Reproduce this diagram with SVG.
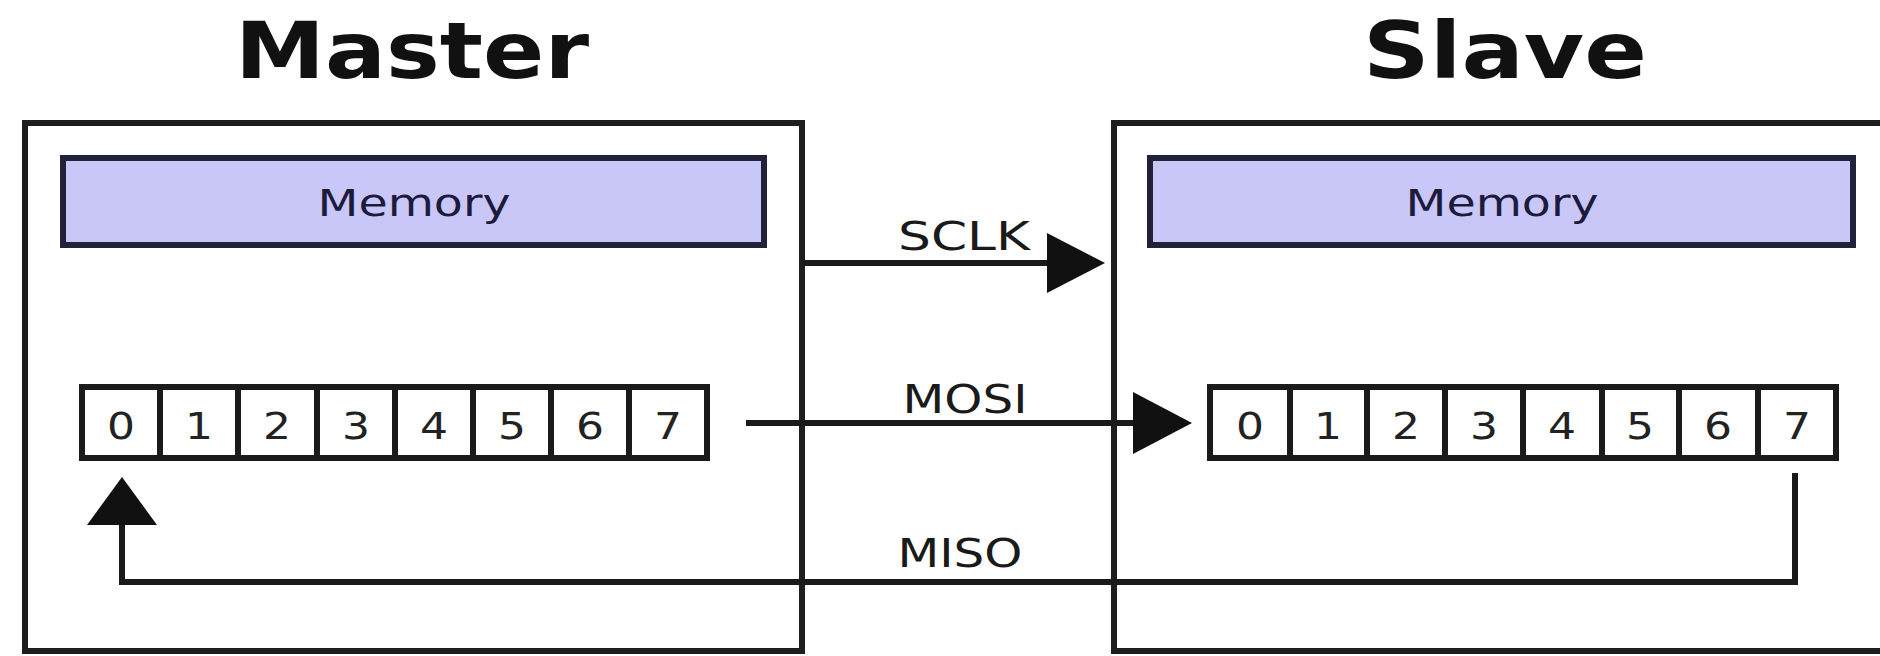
<svg xmlns="http://www.w3.org/2000/svg" width="1880" height="656" viewBox="0 0 1880 656">
  <style>
    .box { fill: #ffffff; stroke: #1e1e1e; stroke-width: 6; }
    .mem { fill: #c9c7f7; stroke: #22213a; stroke-width: 6; }
    .memt { font-family: "DejaVu Sans", "Liberation Sans", sans-serif; font-size: 38px; fill: #1c1b3c; text-anchor: middle; }
    .title { font-family: "DejaVu Sans", "Liberation Sans", sans-serif; font-weight: bold; font-size: 78px; fill: #111111; text-anchor: middle; }
    .reg { fill: #ffffff; stroke: #1a1a1a; stroke-width: 6; }
    .div { stroke: #1a1a1a; stroke-width: 6; }
    .dig { font-family: "DejaVu Sans", "Liberation Sans", sans-serif; font-size: 37px; fill: #222222; text-anchor: middle; }
    .lbl { font-family: "DejaVu Sans", "Liberation Sans", sans-serif; font-size: 39px; fill: #1a1a1a; text-anchor: middle; }
    .wire { fill: none; stroke: #1a1a1a; stroke-width: 6; }
    .head { fill: #111111; stroke: none; }
  </style>
  <rect width="1880" height="656" fill="#ffffff"/>

  <g id="master">
    <text class="title" x="412" y="78" textLength="354" lengthAdjust="spacingAndGlyphs">Master</text>
    <rect class="box" x="25" y="123" width="777" height="528"/>
    <g id="master-memory">
      <rect class="mem" x="63" y="158" width="701" height="87"/>
      <text class="memt" x="414" y="216" textLength="193" lengthAdjust="spacingAndGlyphs">Memory</text>
    </g>
    <g id="master-register">
      <rect class="reg" x="82" y="387" width="625" height="71"/>
      <path class="div" d="M160 387V458M238 387V458M317 387V458M395 387V458M473 387V458M551 387V458M629 387V458"/>
      <text class="dig" x="121" y="439" textLength="28" lengthAdjust="spacingAndGlyphs">0</text>
      <text class="dig" x="199" y="439" textLength="28" lengthAdjust="spacingAndGlyphs">1</text>
      <text class="dig" x="277" y="439" textLength="28" lengthAdjust="spacingAndGlyphs">2</text>
      <text class="dig" x="356" y="439" textLength="28" lengthAdjust="spacingAndGlyphs">3</text>
      <text class="dig" x="434" y="439" textLength="28" lengthAdjust="spacingAndGlyphs">4</text>
      <text class="dig" x="512" y="439" textLength="28" lengthAdjust="spacingAndGlyphs">5</text>
      <text class="dig" x="590" y="439" textLength="28" lengthAdjust="spacingAndGlyphs">6</text>
      <text class="dig" x="668" y="439" textLength="28" lengthAdjust="spacingAndGlyphs">7</text>
    </g>
  </g>

  <g id="slave">
    <text class="title" x="1505" y="78" textLength="284" lengthAdjust="spacingAndGlyphs">Slave</text>
    <rect class="box" x="1114" y="123" width="780" height="528"/>
    <g id="slave-memory">
      <rect class="mem" x="1150" y="158" width="703" height="87"/>
      <text class="memt" x="1502" y="216" textLength="193" lengthAdjust="spacingAndGlyphs">Memory</text>
    </g>
    <g id="slave-register">
      <rect class="reg" x="1210" y="387" width="626" height="71"/>
      <path class="div" d="M1290 387V458M1367 387V458M1445 387V458M1523 387V458M1602 387V458M1679 387V458M1758 387V458"/>
      <text class="dig" x="1250" y="439" textLength="28" lengthAdjust="spacingAndGlyphs">0</text>
      <text class="dig" x="1328" y="439" textLength="28" lengthAdjust="spacingAndGlyphs">1</text>
      <text class="dig" x="1406" y="439" textLength="28" lengthAdjust="spacingAndGlyphs">2</text>
      <text class="dig" x="1484" y="439" textLength="28" lengthAdjust="spacingAndGlyphs">3</text>
      <text class="dig" x="1562" y="439" textLength="28" lengthAdjust="spacingAndGlyphs">4</text>
      <text class="dig" x="1640" y="439" textLength="28" lengthAdjust="spacingAndGlyphs">5</text>
      <text class="dig" x="1718" y="439" textLength="28" lengthAdjust="spacingAndGlyphs">6</text>
      <text class="dig" x="1797" y="439" textLength="28" lengthAdjust="spacingAndGlyphs">7</text>
    </g>
  </g>

  <g id="connectors">
    <g id="sclk">
      <path class="wire" d="M802 263H1050"/>
      <polygon class="head" points="1047,233 1105,263 1047,293"/>
      <text class="lbl" x="964" y="250" textLength="132" lengthAdjust="spacingAndGlyphs">SCLK</text>
    </g>
    <g id="mosi">
      <path class="wire" d="M746 423H1136"/>
      <polygon class="head" points="1133,392 1192,423 1133,454"/>
      <text class="lbl" x="965" y="413" textLength="125" lengthAdjust="spacingAndGlyphs">MOSI</text>
    </g>
    <g id="miso">
      <path class="wire" d="M1795 473V582H122V522"/>
      <polygon class="head" points="87,525 157,525 122,477"/>
      <text class="lbl" x="960" y="567" textLength="125" lengthAdjust="spacingAndGlyphs">MISO</text>
    </g>
  </g>
</svg>
